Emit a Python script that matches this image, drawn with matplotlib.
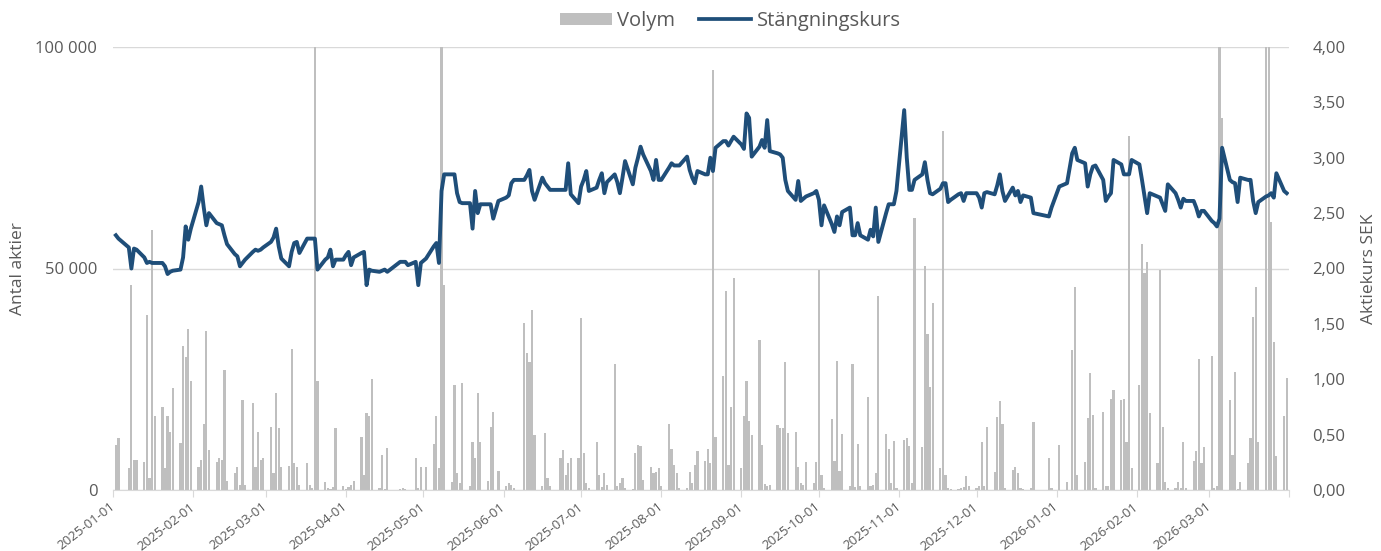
import numpy as np
import pandas as pd
import matplotlib
matplotlib.use("Agg")
import matplotlib.pyplot as plt
import matplotlib.transforms as mtransforms
from matplotlib.patches import Patch
from matplotlib.lines import Line2D
from matplotlib.ticker import FuncFormatter

plt.rcParams['font.family'] = ['Open Sans', 'DejaVu Sans']

# ---------------- data (per month, one value per trading day) ----------------
vol_2025_01 = [10200, 11700, 4900, 46300, 6800, 6800, 6400, 39500, 2600, 58700, 16600,
               18800, 5000, 16600, 13200, 23000, 10500, 32400, 30000, 36300, 24500]
px_2025_01 = [2.30, 2.27, 2.19, 2.00, 2.18, 2.17, 2.10, 2.05, 2.06, 2.05, 2.05,
              2.05, 2.02, 1.95, 1.97, 1.98, 1.99, 2.10, 2.38, 2.26, 2.36]

vol_2025_02 = [5300, 6800, 15000, 35800, 9000, 6400, 7200, 6800, 27100, 2000,
               3800, 5300, 1100, 20300, 1100, 19700, 5300, 13200, 6800, 7200]
px_2025_02 = [2.60, 2.74, 2.55, 2.39, 2.50, 2.41, 2.40, 2.39, 2.30, 2.22,
              2.13, 2.11, 2.02, 2.05, 2.08, 2.15, 2.17, 2.16, 2.17, 2.19]

vol_2025_03 = [14300, 3800, 22000, 13900, 5300, 5400, 31800, 6000, 5300, 1100, 6200,
               1100, 500, 130000, 24700, 1900, 400, 300, 700, 14100, 800]
px_2025_03 = [2.24, 2.28, 2.36, 2.20, 2.09, 2.02, 2.15, 2.23, 2.24, 2.14, 2.27,
              2.27, 2.27, 2.27, 1.99, 2.08, 2.10, 2.17, 2.02, 2.08, 2.08]

vol_2025_04 = [300, 600, 1200, 2000, 12000, 3400, 17300, 16600, 25000, 400,
               7900, 300, 9400, 200, 400, 200, 100, 7200, 500, 5300]
px_2025_04 = [2.12, 2.15, 2.03, 2.10, 2.14, 2.15, 1.85, 1.99, 1.98, 1.97,
              1.98, 1.99, 1.97, 2.06, 2.06, 2.06, 2.03, 2.06, 1.85, 2.05]

vol_2025_05 = [5300, 10400, 16700, 5000, 150000, 46300, 1900, 23700, 3900, 1500,
               24100, 1000, 10900, 7200, 21800, 10900, 2000, 14200, 17500, 4400]
px_2025_05 = [2.09, 2.20, 2.23, 2.05, 2.70, 2.85, 2.85, 2.85, 2.68, 2.60,
              2.59, 2.59, 2.36, 2.70, 2.50, 2.58, 2.58, 2.58, 2.45, 2.61]

vol_2025_06 = [1000, 1500, 1200, 500, 37700, 30900, 29000, 40700, 12400, 1000,
               12800, 2700, 800, 7200, 9000, 3400, 6200, 7200, 7200]
px_2025_06 = [2.64, 2.66, 2.77, 2.80, 2.80, 2.84, 2.89, 2.70, 2.62, 2.82,
              2.77, 2.74, 2.71, 2.71, 2.71, 2.71, 2.95, 2.67, 2.59]

vol_2025_07 = [38800, 8300, 1500, 500, 10900, 3400, 600, 3900, 1200, 28500, 1000, 1500,
               2700, 500, 300, 8300, 10200, 9900, 2300, 5300, 3800, 4000, 4900]
px_2025_07 = [2.74, 2.80, 2.88, 2.70, 2.73, 2.80, 2.86, 2.68, 2.78, 2.85, 2.78, 2.68,
              2.82, 2.97, 2.76, 2.91, 3.00, 3.10, 3.03, 2.88, 2.80, 2.98, 2.80]

vol_2025_08 = [1000, 14900, 9200, 5700, 3800, 500, 500, 4100, 1500, 5700, 8900,
               6600, 9200, 6000, 94800, 12000, 25800, 45000, 5700, 18800, 47800]
px_2025_08 = [2.80, 2.91, 2.95, 2.93, 2.93, 2.93, 3.01, 2.89, 2.82, 2.77, 2.88,
              2.85, 2.85, 3.00, 2.88, 3.09, 3.15, 3.15, 3.11, 3.15, 3.19]

vol_2025_09 = [4900, 16600, 24700, 15600, 12400, 33900, 10200, 1300, 1000, 1200, 14700,
               13900, 13900, 28800, 12800, 13000, 5300, 1500, 1100, 6400, 1500, 6400]
px_2025_09 = [3.12, 3.08, 3.40, 3.36, 3.01, 3.10, 3.16, 3.09, 3.34, 3.06, 3.04,
              3.03, 3.00, 2.80, 2.70, 2.62, 2.79, 2.61, 2.63, 2.65, 2.68, 2.70]

vol_2025_10 = [49700, 3400, 500, 16000, 6600, 29200, 4400, 12700, 1000, 28500, 600, 10400,
               1000, 20900, 800, 1100, 3900, 43800, 12600, 9200, 1500, 11100, 500]
px_2025_10 = [2.62, 2.39, 2.57, 2.40, 2.33, 2.47, 2.39, 2.51, 2.55, 2.30, 2.30, 2.41,
              2.30, 2.26, 2.35, 2.29, 2.55, 2.24, 2.50, 2.58, 2.58, 2.58, 2.70]

vol_2025_11 = [11300, 11700, 10000, 1500, 61400, 9600, 50600, 35200, 23200, 42300,
               5000, 81000, 3400, 500, 300, 300, 500, 700, 3200, 800]
px_2025_11 = [3.43, 3.00, 2.71, 2.71, 2.80, 2.85, 2.96, 2.80, 2.68, 2.67,
              2.72, 2.77, 2.77, 2.60, 2.62, 2.67, 2.68, 2.61, 2.68, 2.68]

vol_2025_12 = [500, 800, 10900, 1000, 14200, 4100, 16400, 20200, 14900, 500,
               4500, 5300, 3800, 500, 300, 500, 15400, 7200, 500]
px_2025_12 = [2.68, 2.64, 2.55, 2.68, 2.69, 2.67, 2.75, 2.85, 2.70, 2.61,
              2.73, 2.66, 2.70, 2.60, 2.66, 2.64, 2.50, 2.47, 2.55]

vol_2026_01 = [10200, 1900, 31600, 45800, 3400, 6400, 16200, 26500, 16900, 500,
               17700, 1000, 800, 20500, 22600, 20300, 20600, 10900, 80000, 5000]
px_2026_01 = [2.74, 2.77, 3.04, 3.09, 2.98, 2.95, 2.74, 2.85, 2.92, 2.93,
              2.80, 2.61, 2.65, 2.68, 2.98, 2.94, 2.85, 2.85, 2.85, 2.98]

vol_2026_02 = [23700, 55600, 48900, 51400, 17300, 6000, 49700, 14200, 1900, 500,
               500, 1700, 500, 10900, 500, 6600, 8900, 29500, 6200, 9800]
px_2026_02 = [2.94, 2.80, 2.65, 2.50, 2.68, 2.65, 2.64, 2.58, 2.52, 2.76,
              2.68, 2.62, 2.55, 2.63, 2.61, 2.61, 2.55, 2.47, 2.52, 2.52]

vol_2026_03 = [30300, 500, 1000, 150000, 84000, 20300, 7900, 26700, 300, 1800, 6200,
               11700, 39000, 45800, 10900, 150000, 150000, 60400, 33300, 7700, 16600, 25200]
px_2026_03 = [2.43, 2.41, 2.38, 2.45, 3.09, 2.80, 2.78, 2.77, 2.60, 2.82, 2.80,
              2.80, 2.61, 2.50, 2.60, 2.65, 2.66, 2.68, 2.64, 2.86, 2.70, 2.68]

months = ["2025-01", "2025-02", "2025-03", "2025-04", "2025-05", "2025-06", "2025-07",
          "2025-08", "2025-09", "2025-10", "2025-11", "2025-12", "2026-01", "2026-02", "2026-03"]
month_vols = [vol_2025_01, vol_2025_02, vol_2025_03, vol_2025_04, vol_2025_05, vol_2025_06,
              vol_2025_07, vol_2025_08, vol_2025_09, vol_2025_10, vol_2025_11, vol_2025_12,
              vol_2026_01, vol_2026_02, vol_2026_03]
month_pxs = [px_2025_01, px_2025_02, px_2025_03, px_2025_04, px_2025_05, px_2025_06,
             px_2025_07, px_2025_08, px_2025_09, px_2025_10, px_2025_11, px_2025_12,
             px_2026_01, px_2026_02, px_2026_03]

# Stockholm exchange closing days
holidays = ["2025-01-01", "2025-01-06", "2025-04-18", "2025-04-21", "2025-05-01",
            "2025-05-29", "2025-06-06", "2025-06-20", "2025-12-24", "2025-12-25",
            "2025-12-26", "2025-12-31", "2026-01-01", "2026-01-06"]

trading = pd.bdate_range("2025-01-01", "2026-03-31")
trading = trading[~trading.isin(pd.to_datetime(holidays))]

dates, vols, pxs = [], [], []
for m, v, p in zip(months, month_vols, month_pxs):
    d = trading[trading.strftime("%Y-%m") == m]
    assert len(d) == len(v) == len(p), (m, len(d), len(v), len(p))
    dates.extend(list(d))
    vols.extend(v)
    pxs.extend(p)
dates = pd.DatetimeIndex(dates)

# ---------------- figure ----------------
W, H = 1381, 551
fig = plt.figure(figsize=(W / 100, H / 100), dpi=100)
ax = fig.add_axes([113.3 / W, 1 - 490 / H, (1289.3 - 113.3) / W, 443 / H])
ax2 = ax.twinx()

grey_txt = '#595959'
grid_c = '#D9D9D9'

ax.bar(dates, vols, width=0.85, color='#BFBFBF', zorder=2)
ax2.plot(dates, pxs, color='#1F4E79', lw=2.8, solid_joinstyle='round', zorder=3)

ax.set_xlim(pd.Timestamp("2025-01-01"), pd.Timestamp("2026-04-01"))
ax.set_ylim(0, 100000)
ax2.set_ylim(0, 4)

ax.set_yticks([0, 50000, 100000])
ax.yaxis.set_major_formatter(FuncFormatter(lambda v, _: f"{int(v):,}".replace(",", " ")))
ax2.set_yticks(np.arange(0, 4.01, 0.5))
ax2.yaxis.set_major_formatter(FuncFormatter(lambda v, _: f"{v:.2f}".replace(".", ",")))

ticks = pd.date_range("2025-01-01", "2026-04-01", freq="MS")
ax.set_xticks(ticks)
ax.set_xticklabels([t.strftime("%Y-%m-%d") if i < len(ticks) - 1 else "" for i, t in enumerate(ticks)],
                   rotation=38, ha='right', va='center', rotation_mode='anchor',
                   fontsize=9.5, color=grey_txt)
offset = mtransforms.ScaledTranslation(4 / 100, 0, fig.dpi_scale_trans)
for lbl in ax.get_xticklabels():
    lbl.set_transform(lbl.get_transform() + offset)

ax.grid(axis='y', color=grid_c, lw=1, zorder=0)
ax.set_axisbelow(True)
for a in (ax, ax2):
    for s in ('top', 'left', 'right'):
        a.spines[s].set_visible(False)
    a.spines['bottom'].set_color(grid_c)
ax2.spines['bottom'].set_visible(False)

ax.tick_params(axis='x', length=5, color=grid_c, pad=6)
ax.tick_params(axis='y', length=0, labelsize=12, labelcolor=grey_txt, pad=11.5)
ax2.tick_params(axis='y', length=0, labelsize=12, labelcolor=grey_txt, pad=16.5)

ax.set_ylabel("Antal aktier", fontsize=12.5, color=grey_txt, labelpad=7)
ax2.set_ylabel("Aktiekurs SEK", fontsize=12.5, color=grey_txt, labelpad=11)

handles = [Patch(facecolor='#BFBFBF', edgecolor='none'),
           Line2D([0], [0], color='#1F4E79', lw=2.7)]
fig.legend(handles, ["Volym", "Stängningskurs"], loc='center', ncol=2,
           bbox_to_anchor=(730 / W, 1 - 21 / H), frameon=False, fontsize=14.5,
           handlelength=2.6, handleheight=0.6, handletextpad=0.25, columnspacing=1.2,
           labelcolor=grey_txt)

fig.savefig("out.png", dpi=100)
